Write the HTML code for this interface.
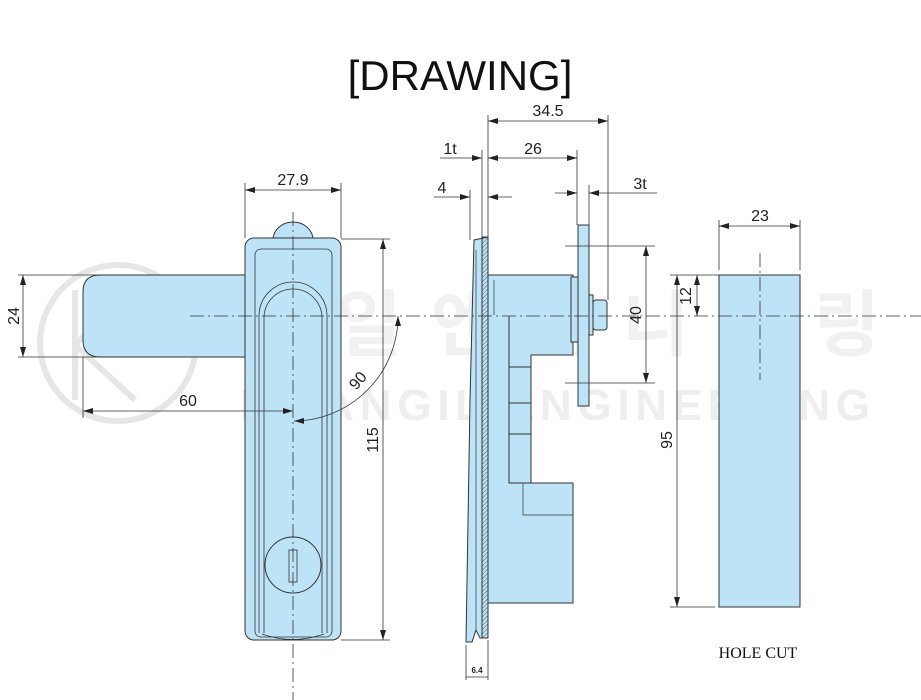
<!DOCTYPE html>
<html><head><meta charset="utf-8"><style>
html,body{margin:0;padding:0;background:#fff;}
svg{display:block;}
text{font-family:"Liberation Sans",sans-serif;fill:#222;}
</style></head><body>
<svg width="921" height="700" viewBox="0 0 921 700" xmlns="http://www.w3.org/2000/svg">
<defs>
<marker id="a" viewBox="0 0 10 6" refX="10" refY="3" markerWidth="10" markerHeight="6" orient="auto-start-reverse" markerUnits="userSpaceOnUse"><path d="M0,0 L10,3 L0,6 z" fill="#222"/></marker>
<pattern id="h" width="3" height="3" patternUnits="userSpaceOnUse" patternTransform="rotate(45)"><line x1="0" y1="0" x2="0" y2="3" stroke="#333" stroke-width="0.8"/></pattern>
</defs>
<!-- watermark -->
<g fill="none" stroke="#e6e6e6" stroke-width="6">
<circle cx="118" cy="343" r="78"/>
<path d="M75,290 V400 M75,345 L130,290 M75,345 L135,400"/>
</g>
<text x="240" y="420" font-size="44" font-weight="bold" style="fill:#eeeeee" textLength="630">KWANGIL ENGINEERING</text>
<text x="240" y="350" font-size="72" font-weight="bold" style="fill:#f1f1f1;font-family:'Noto Sans CJK KR',sans-serif" textLength="640">광일엔지니어링</text>

<text x="460" y="90" font-size="42" text-anchor="middle" style="fill:#111">[DRAWING]</text>

<g stroke="#333" stroke-width="1" fill="#bde3f7">
<path d="M245,275 H100 Q83,275 83,292 V340 Q83,357 100,357 H245 Z"/>
<path d="M273,240 A20,18 0 0 1 313,240 Z"/>
<rect x="245" y="238" width="96" height="402" rx="9"/>
<rect x="255" y="249" width="77" height="388" rx="6" fill="none" stroke-width="0.8"/>
<path d="M259,633 V316 A34,34 0 0 1 327,316 V633" fill="none" stroke-width="0.8"/>
<path d="M264,633 V318 A29,29 0 0 1 322,318 V633" fill="none" stroke-width="0.8"/>
<path d="M262,634 Q293,645 324,634" fill="none" stroke-width="0.8"/>
<circle cx="293" cy="565" r="28" fill="none"/>
<rect x="289" y="550" width="8" height="32" fill="none" stroke-width="0.8"/>
</g>

<!-- side view -->
<g stroke="#333" stroke-width="1" fill="#bde3f7">
<path d="M488,275 H573 V355 H531 V483 H573 V603 H488 Z"/>
<path d="M509,316 V483 H531" fill="none"/>
<line x1="509" y1="367" x2="531" y2="367"/><line x1="509" y1="403" x2="531" y2="403"/><line x1="509" y1="434" x2="531" y2="434"/>
<path d="M523,483 V515 H573" fill="none" stroke-width="0.7"/>
<line x1="494" y1="280" x2="494" y2="315" stroke-width="0.7"/>
<path d="M474,240 L488,237 V638 L480,638 L476,630 L472,642 L466,642 L470,400 Z"/>
<rect x="482" y="237" width="6" height="401" fill="url(#h)"/>
<line x1="476" y1="250" x2="476" y2="630" stroke-width="0.7"/>
<rect x="571" y="277" width="7" height="65"/>
<rect x="578" y="225" width="11" height="181"/>
<rect x="589" y="295" width="4" height="40"/>
<rect x="593" y="300" width="14" height="30" rx="3"/>
<rect x="719" y="275" width="81" height="332"/>
</g>

<g stroke="#333" stroke-width="0.8" stroke-dasharray="14,4,2,4" fill="none">
<line x1="190" y1="316" x2="921" y2="316"/>
<line x1="293" y1="212" x2="293" y2="700"/>
<line x1="760" y1="253" x2="760" y2="380"/>
</g>

<g stroke="#333" stroke-width="0.8" fill="none">
<line x1="245" y1="183" x2="245" y2="238"/><line x1="341" y1="183" x2="341" y2="238"/>
<line x1="245" y1="190" x2="341" y2="190" marker-start="url(#a)" marker-end="url(#a)"/>
<line x1="18" y1="275" x2="100" y2="275"/><line x1="18" y1="357" x2="100" y2="357"/>
<line x1="23" y1="275" x2="23" y2="357" marker-start="url(#a)" marker-end="url(#a)"/>
<line x1="83" y1="357" x2="83" y2="418"/>
<line x1="83" y1="411" x2="293" y2="411" marker-start="url(#a)" marker-end="url(#a)"/>
<line x1="341" y1="239" x2="390" y2="239"/><line x1="341" y1="640" x2="390" y2="640"/>
<line x1="383" y1="239" x2="383" y2="640" marker-start="url(#a)" marker-end="url(#a)"/>
<path d="M398,316 A105,105 0 0 1 294,421" marker-start="url(#a)" marker-end="url(#a)"/>

<line x1="488" y1="115" x2="488" y2="237"/><line x1="608" y1="115" x2="608" y2="300"/>
<line x1="488" y1="121" x2="608" y2="121" marker-start="url(#a)" marker-end="url(#a)"/>
<line x1="482" y1="150" x2="482" y2="237"/><line x1="577" y1="150" x2="577" y2="225"/>
<line x1="488" y1="158" x2="577" y2="158" marker-start="url(#a)" marker-end="url(#a)"/>
<line x1="440" y1="158" x2="482" y2="158" marker-end="url(#a)"/>
<line x1="470" y1="190" x2="470" y2="240"/>
<line x1="434" y1="197" x2="470" y2="197" marker-end="url(#a)"/>
<line x1="512" y1="197" x2="488" y2="197" marker-end="url(#a)"/>
<line x1="589" y1="185" x2="589" y2="225"/>
<line x1="555" y1="193" x2="577" y2="193" marker-end="url(#a)"/>
<line x1="657" y1="193" x2="589" y2="193" marker-end="url(#a)"/>
<line x1="565" y1="246" x2="655" y2="246"/><line x1="565" y1="383" x2="655" y2="383"/>
<line x1="646" y1="246" x2="646" y2="383" marker-start="url(#a)" marker-end="url(#a)"/>
<line x1="466" y1="645" x2="466" y2="680"/><line x1="488" y1="640" x2="488" y2="680"/>
<line x1="466" y1="677" x2="488" y2="677"/>

<line x1="719" y1="220" x2="719" y2="270"/><line x1="800" y1="220" x2="800" y2="270"/>
<line x1="719" y1="226" x2="800" y2="226" marker-start="url(#a)" marker-end="url(#a)"/>
<line x1="670" y1="275" x2="719" y2="275"/><line x1="670" y1="607" x2="715" y2="607"/>
<line x1="677" y1="275" x2="677" y2="607" marker-start="url(#a)" marker-end="url(#a)"/>
<line x1="697" y1="275" x2="697" y2="316" marker-start="url(#a)" marker-end="url(#a)"/>
</g>

<g font-size="16">
<text x="293" y="185" text-anchor="middle">27.9</text>
<text x="19" y="316" text-anchor="middle" transform="rotate(-90 19 316)">24</text>
<text x="188" y="406" text-anchor="middle">60</text>
<text x="378" y="440" text-anchor="middle" transform="rotate(-90 378 440)">115</text>
<text x="362" y="384" text-anchor="middle" transform="rotate(-50 362 384)">90</text>
<text x="548" y="116" text-anchor="middle">34.5</text>
<text x="533" y="154" text-anchor="middle">26</text>
<text x="450" y="154" text-anchor="middle">1t</text>
<text x="442" y="193" text-anchor="middle">4</text>
<text x="640" y="189" text-anchor="middle">3t</text>
<text x="641" y="315" text-anchor="middle" transform="rotate(-90 641 315)">40</text>
<text x="760" y="221" text-anchor="middle">23</text>
<text x="691" y="296" text-anchor="middle" transform="rotate(-90 691 296)">12</text>
<text x="672" y="440" text-anchor="middle" transform="rotate(-90 672 440)">95</text>
</g>
<text x="477" y="673" font-size="8" text-anchor="middle" font-weight="bold">6.4</text>
<text x="758" y="658" font-size="16" text-anchor="middle" style="font-family:'Liberation Serif',serif;fill:#111">HOLE CUT</text>
</svg>
</body></html>
